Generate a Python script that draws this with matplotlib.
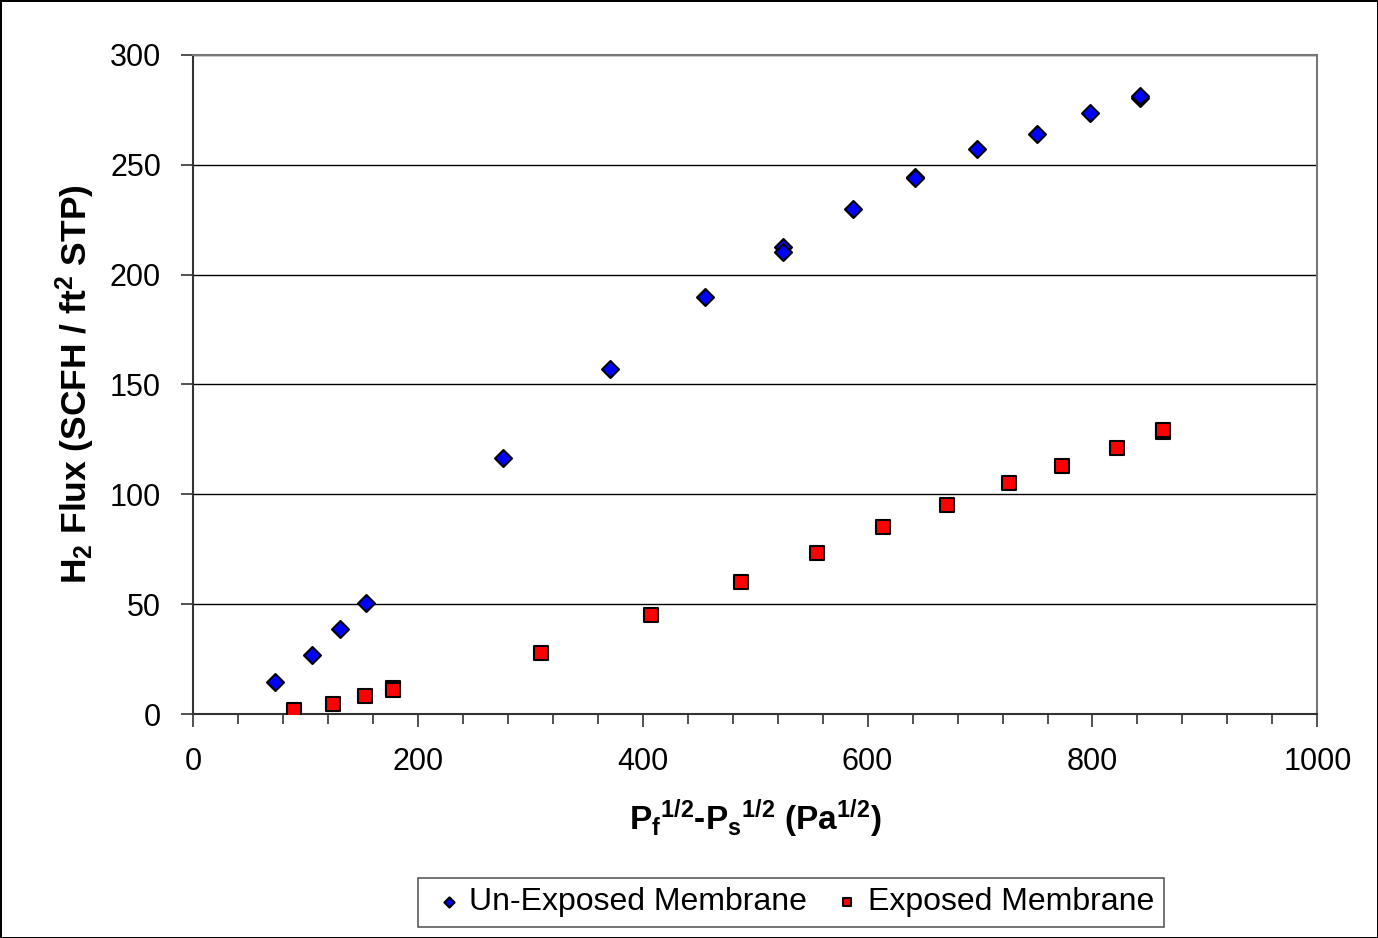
import numpy as np
import matplotlib
matplotlib.use('Agg')
from matplotlib import pyplot as plt
from matplotlib.ticker import MultipleLocator

# 読み取ったデータ
unexp_x = [73, 106, 131, 154, 276, 371, 455, 525, 525, 587, 642, 642, 697, 751, 798, 842, 842]
unexp_y = [14.6, 26.9, 38.7, 50.5, 116.5, 157, 190, 212.5, 210.5, 230, 244.5, 244, 257, 264, 273.6, 280.5, 281.5]

exp_x = [90, 125, 153, 178, 178, 310, 407, 487, 555, 614, 671, 726, 773, 822, 863, 863]
exp_y = [1.8, 4.5, 8.2, 11.8, 10.8, 27.8, 45, 60, 73.3, 85, 95, 105, 113, 121, 128.5, 129.5]

x_ticks = [0, 200, 400, 600, 800, 1000]
y_ticks = [0, 50, 100, 150, 200, 250, 300]

plt.rcParams['font.family'] = ['Liberation Sans', 'DejaVu Sans']
plt.rcParams['mathtext.default'] = 'regular'

fig = plt.figure(figsize=(13.78, 9.38), dpi=100)
fig.patch.set_edgecolor('black')
fig.patch.set_linewidth(2)
ax = fig.add_axes([0.140, 0.2388, 0.816, 0.7026])

ax.set_xlim(0, 1000)
ax.set_ylim(0, 300)
ax.set_xticks(x_ticks)
ax.set_yticks(y_ticks)
ax.xaxis.set_minor_locator(MultipleLocator(40))
ax.tick_params(axis='both', which='major', direction='out', length=9, width=1.2,
               color='#333333', labelsize=22, pad=6)
ax.tick_params(axis='x', which='minor', direction='out', length=7, width=1.2, color='#333333')
ax.tick_params(axis='x', pad=15)
ax.tick_params(axis='y', pad=14)

# グリッド
ax.grid(axis='y', color='black', linewidth=1.0)
ax.set_axisbelow(True)
for s in ax.spines.values():
    s.set_color('#777777')
    s.set_linewidth(1.5)
ax.spines['left'].set_color('#333333')
ax.spines['bottom'].set_color('#333333')

# データプロット
ax.scatter(unexp_x, unexp_y, marker='D', s=75, c='#0000ff', edgecolors='black',
           linewidths=1.5, label='Un-Exposed Membrane', zorder=3)
ax.scatter(exp_x, exp_y, marker='s', s=110, c='#ff0000', edgecolors='black',
           linewidths=1.5, label='Exposed Membrane', zorder=3)

ax.set_xlabel('P$_f$$^{1/2}$-P$_s$$^{1/2}$ (Pa$^{1/2}$)', fontsize=24, fontweight='bold', labelpad=14)
ax.set_ylabel('H$_2$ Flux (SCFH / ft$^2$ STP)', fontsize=25.5, fontweight='bold', labelpad=9)

leg = ax.legend(loc='center', bbox_to_anchor=(0.532, -0.286), ncol=2, frameon=True,
                fancybox=False, edgecolor='#333333', fontsize=23, handletextpad=0.0,
                columnspacing=0.6, markerscale=0.6, borderpad=0.3, handlelength=1.3)
leg.get_frame().set_linewidth(1.2)

fig.savefig('out.png', dpi=100, edgecolor=fig.get_edgecolor())
plt.close()
